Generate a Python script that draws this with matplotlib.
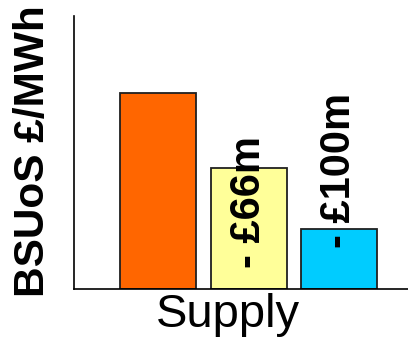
import matplotlib
matplotlib.use("Agg")
import matplotlib.pyplot as plt

plt.rcParams['font.family'] = ['Liberation Sans', 'DejaVu Sans']

# BSUoS charge per MWh for supply, base case and two savings scenarios
scenarios = ['Base', 'Saving 66m', 'Saving 100m']
bsuos = [71.8, 44.3, 22.0]
bar_colors = ['#FF6600', '#FFFF99', '#00CCFF']
savings_text = ['', '- £66m', '- £100m']
label_y = [0, 31.9, 43.6]

fig = plt.figure(figsize=(4.08, 3.41), dpi=100)
ax = fig.add_axes([0.1814, 0.1525, 0.8186, 0.8006])

xs = range(len(bsuos))
ax.bar(xs, bsuos, width=0.84, color=bar_colors, edgecolor='#202020', linewidth=1.3)

for x, txt, y in zip(xs, savings_text, label_y):
    if txt:
        ax.text(x, y, txt, rotation=90, ha='center', va='center',
                fontsize=30, fontweight='bold')

ax.set_xlim(-0.928, 2.762)
ax.set_ylim(0, 100)
ax.set_xticks([])
ax.set_yticks([])
for side in ['top', 'right']:
    ax.spines[side].set_visible(False)
for side in ['left', 'bottom']:
    ax.spines[side].set_linewidth(1.2)

fig.text(227.5 / 408, 1 - 327 / 341, 'Supply', ha='center', va='baseline', fontsize=34)
fig.text(33 / 408, 1 - 151 / 341, 'BSUoS £/MWh', rotation=90, ha='center', va='center',
         fontsize=30.5, fontweight='bold')

fig.savefig('out.png', dpi=100)
